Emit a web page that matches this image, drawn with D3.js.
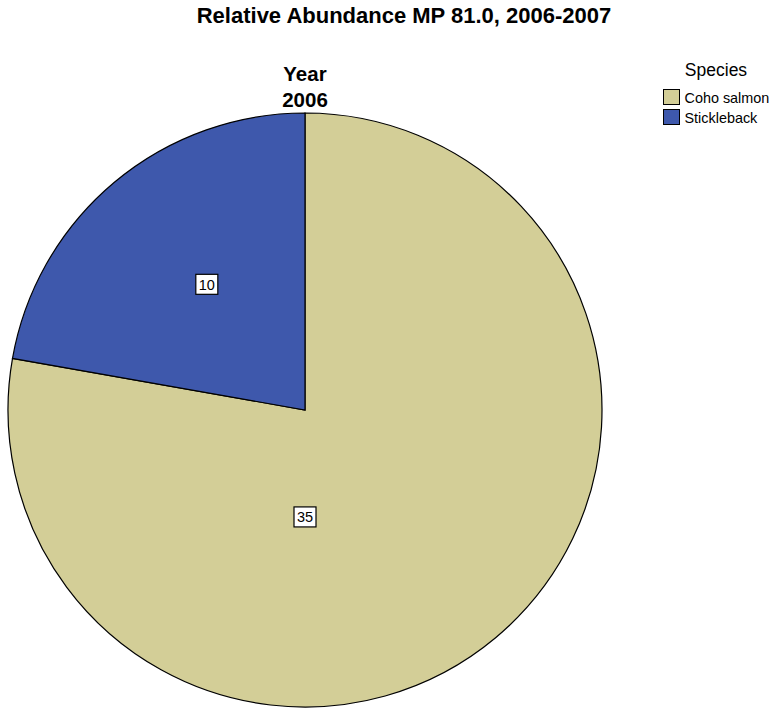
<!DOCTYPE html>
<html>
<head>
<meta charset="utf-8">
<script src="https://cdn.jsdelivr.net/npm/d3@7"></script>
<style>
  html, body { margin: 0; padding: 0; background: #fff; }
  svg { display: block; font-family: "Liberation Sans", Arial, sans-serif; }
</style>
</head>
<body>
<svg id="chart" width="775" height="708"></svg>
<script>
// Counts by species, MP 81.0, year 2006
const species = ["Coho salmon", "Stickleback"];
const counts = [35, 10];
const speciesColors = ["#d3ce97", "#3e58ac"];
const chartTitle = "Relative Abundance MP 81.0, 2006-2007";
const panelTitle = ["Year", "2006"];
const legendTitle = "Species";

const svg = d3.select("#chart");
const cx = 305, cy = 410, R = 297;

const data = species.map((s, i) => ({ species: s, count: counts[i] }));
const color = d3.scaleOrdinal().domain(species).range(speciesColors);

const pie = d3.pie().sort(null).value(d => d.count);
const arcs = pie(data);
const arc = d3.arc().innerRadius(0).outerRadius(R);

svg.append("text")
  .attr("x", 404).attr("y", 23)
  .attr("text-anchor", "middle")
  .attr("font-size", 22).attr("font-weight", "bold")
  .text(chartTitle);

svg.selectAll("text.panel").data(panelTitle).join("text")
  .attr("class", "panel")
  .attr("x", cx).attr("y", (d, i) => 81 + i * 26)
  .attr("text-anchor", "middle")
  .attr("font-size", 20.5).attr("font-weight", "bold")
  .text(d => d);

const g = svg.append("g").attr("transform", `translate(${cx},${cy})`);

g.selectAll("path").data(arcs).join("path")
  .attr("d", arc)
  .attr("fill", d => color(d.data.species))
  .attr("stroke", "#000").attr("stroke-width", 1.2);

// Label placement per slice: angle (rad, clockwise from 12 o'clock) and distance as a fraction of R
const labelLayout = [
  d => ({ angle: Math.PI, r: 0.36 }),
  d => ({ angle: (d.startAngle + d.endAngle) / 2 + 0.035, r: 0.537 })
];
function labelPos(d, i) {
  const p = labelLayout[i](d);
  return [p.r * R * Math.sin(p.angle), -p.r * R * Math.cos(p.angle)];
}

const labels = g.selectAll("g.lbl").data(arcs).join("g")
  .attr("class", "lbl")
  .attr("transform", (d, i) => `translate(${labelPos(d, i)})`);

labels.append("rect")
  .attr("x", -11).attr("y", -10).attr("width", 22).attr("height", 20)
  .attr("fill", "#fff").attr("stroke", "#000").attr("stroke-width", 1.2);

labels.append("text")
  .attr("text-anchor", "middle").attr("dy", "0.36em")
  .attr("font-size", 14.5)
  .text(d => d.data.count);

// Legend
const lg = svg.append("g");
lg.append("text")
  .attr("x", 716).attr("y", 76)
  .attr("text-anchor", "middle")
  .attr("font-size", 17.5)
  .text(legendTitle);

const items = lg.selectAll("g.item").data(species).join("g")
  .attr("class", "item")
  .attr("transform", (d, i) => `translate(663.5,${89.5 + i * 20})`);
items.append("rect")
  .attr("width", 16).attr("height", 15)
  .attr("fill", d => color(d))
  .attr("stroke", "#000").attr("stroke-width", 1);
items.append("text")
  .attr("x", 21).attr("y", 13)
  .attr("font-size", 14.4)
  .text(d => d);
</script>
</body>
</html>
